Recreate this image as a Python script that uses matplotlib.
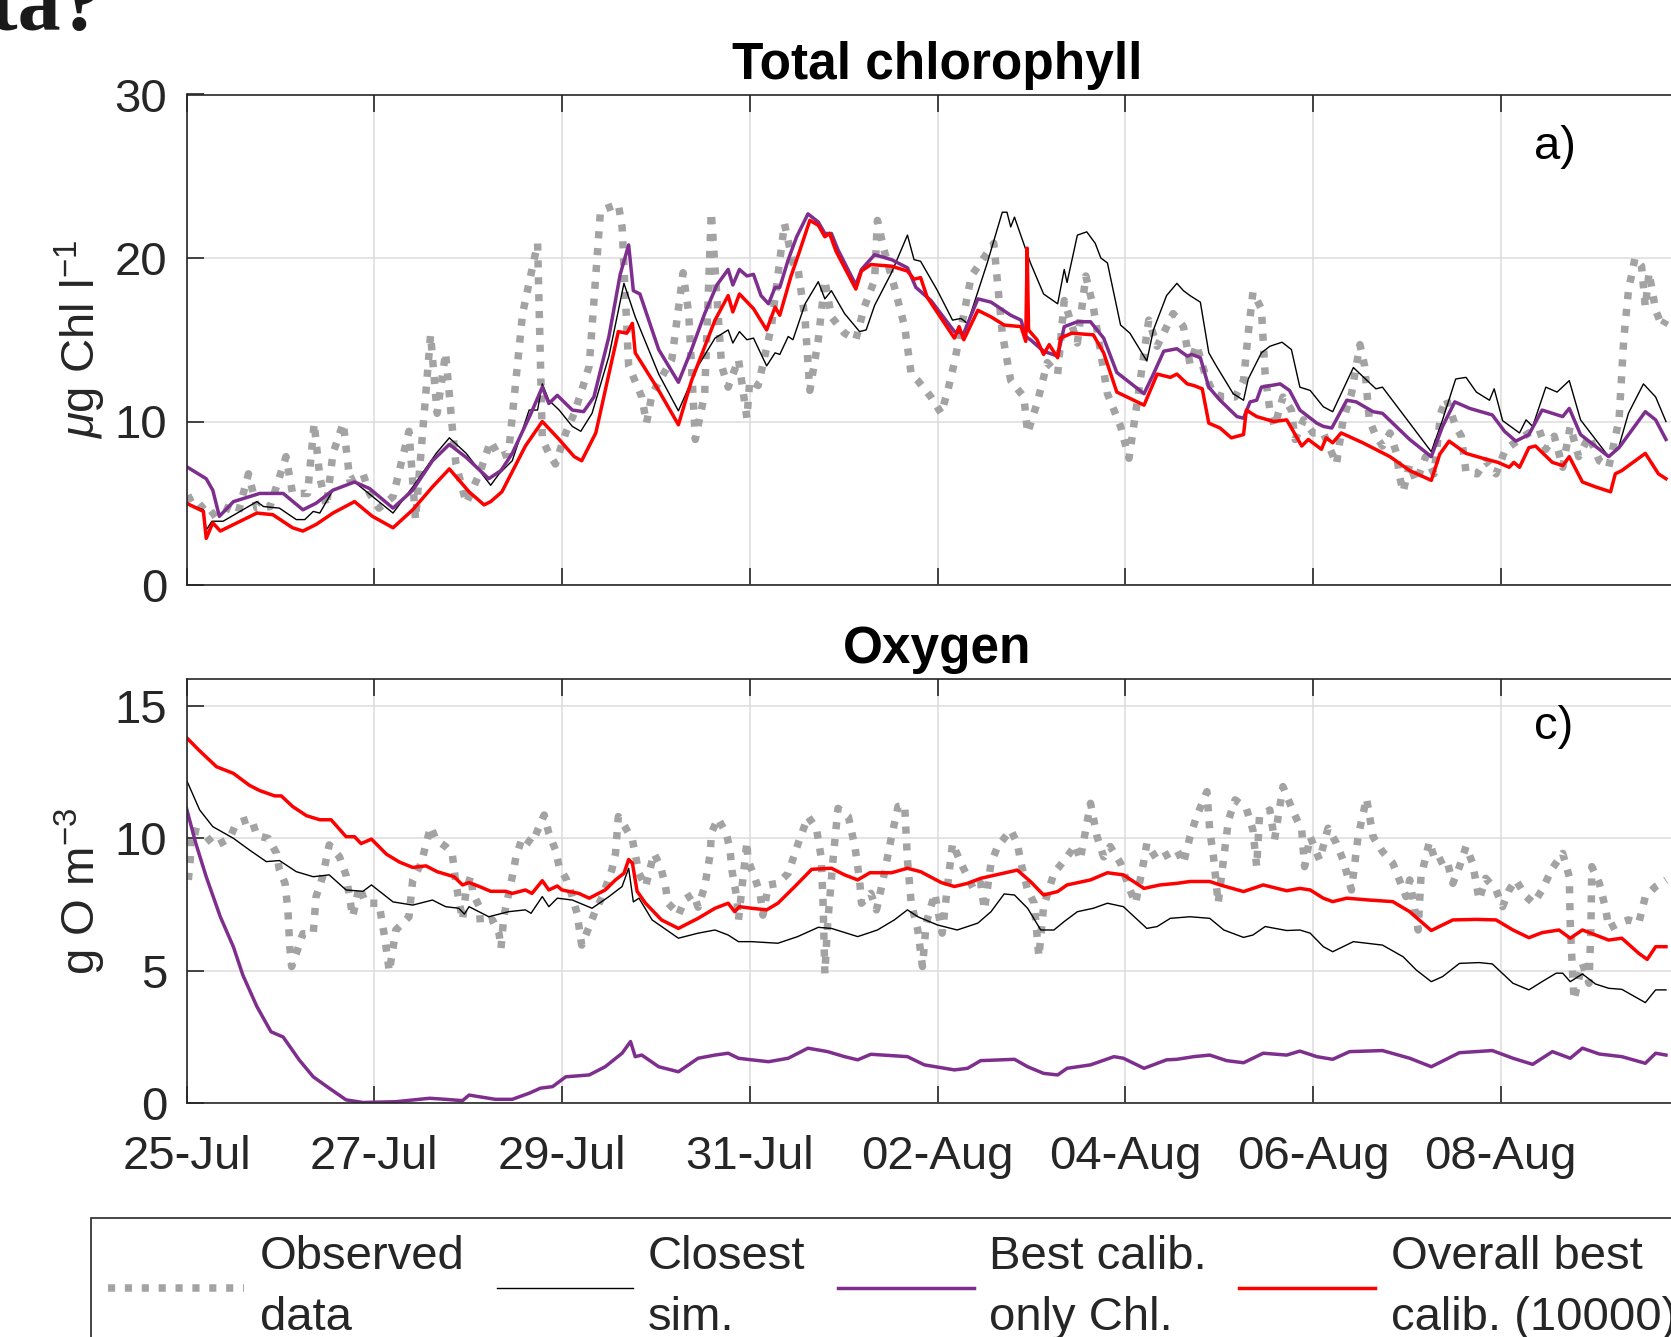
import matplotlib
matplotlib.use('Agg')
import matplotlib.pyplot as plt

# time axis: days after 25-Jul 00:00
tick_days = [0, 2, 4, 6, 8, 10, 12, 14]
tick_labels = ['25-Jul', '27-Jul', '29-Jul', '31-Jul', '02-Aug', '04-Aug', '06-Aug', '08-Aug']

# ---- Total chlorophyll (ug Chl l-1) ----
chl_obs_t = [0, 0.07, 0.25, 0.39, 0.55, 0.66, 0.75, 0.89, 1.06, 1.13, 1.29, 1.36, 1.42, 1.49, 1.56,
             1.67, 1.74, 1.88, 1.95, 2.05, 2.2, 2.37, 2.44, 2.6, 2.67, 2.76, 2.83, 2.87, 2.98, 3.12,
             3.24, 3.33, 3.43, 3.47, 3.58, 3.74, 3.79, 3.86, 3.93, 4.04, 4.13, 4.21, 4.29, 4.41, 4.6,
             4.64, 4.71, 4.85, 4.9, 4.96, 5.17, 5.29, 5.35, 5.42, 5.52, 5.59, 5.7, 5.77, 5.88, 5.97,
             6.0, 6.09, 6.23, 6.37, 6.46, 6.51, 6.59, 6.64, 6.73, 6.8, 6.87, 7.01, 7.13, 7.22, 7.33,
             7.36, 7.43, 7.54, 7.65, 7.72, 7.79, 7.93, 8.04, 8.11, 8.18, 8.36, 8.6, 8.64, 8.69, 8.78,
             8.92, 8.96, 9.06, 9.17, 9.28, 9.35, 9.49, 9.58, 9.66, 9.81, 9.95, 10.04, 10.12, 10.25,
             10.34, 10.51, 10.62, 10.69, 10.76, 10.85, 10.94, 11.05, 11.17, 11.26, 11.31, 11.36,
             11.45, 11.49, 11.54, 11.59, 11.68, 11.77, 11.81, 11.9, 12.0, 12.11, 12.25, 12.32, 12.41,
             12.5, 12.55, 12.6, 12.67, 12.74, 12.82, 12.89, 12.92, 12.96, 13.03, 13.1, 13.2, 13.29,
             13.36, 13.42, 13.52, 13.58, 13.63, 13.75, 13.84, 13.95, 14.05, 14.2, 14.3, 14.41, 14.48,
             14.57, 14.66, 14.74, 14.83, 14.94, 15.05, 15.15, 15.26, 15.31, 15.36, 15.43, 15.5, 15.54,
             15.58, 15.65, 15.72, 15.76]
chl_obs = [5.2, 5.4, 4.2, 4.8, 4.4, 6.8, 4.7, 4.8, 7.85, 5.6, 5.6, 9.9, 6.6, 4.8, 8.05,
           9.9, 6.4, 6.8, 5.6, 4.7, 5.4, 9.4, 4.0, 15.3, 10.5, 14.2, 9.7, 7.4, 5.0, 6.8,
           8.8, 7.85, 8.05, 10.3, 16.6, 20.9, 8.9, 8.05, 7.4, 9.3, 10.5, 11.9, 13.4, 22.9, 23.3,
           21.9, 13.4, 11.5, 9.9, 11.7, 13.8, 19.1, 16.6, 8.9, 11.7, 22.8, 13.4, 12.1, 13.8, 10.2,
           12.5, 12.2, 15.8, 22.1, 19.7, 19.5, 16.2, 11.9, 15.0, 18.65, 16.4, 15.4, 15.0, 17.0, 18.65,
           22.3, 20.5, 18.25, 15.8, 12.9, 12.5, 11.5, 10.5, 11.9, 13.6, 18.9, 20.9, 18.45, 15.4, 12.5,
           11.5, 9.3, 11.1, 13.6, 12.9, 17.4, 14.8, 18.9, 17.0, 11.7, 9.7, 7.75, 10.9, 16.2,
           14.6, 16.6, 15.8, 13.5, 14.7, 12.9, 11.7, 11.5, 11.5, 12.5, 15.4, 17.9,
           16.9, 12.9, 10.7, 9.7, 11.5, 10.7, 8.9, 10.1, 9.3, 9.3, 7.4, 10.1, 11.7,
           14.7, 13.4, 10.1, 9.1, 8.5, 9.3, 8.05, 6.7, 5.7, 7.4, 6.3, 7.85, 6.8,
           10.5, 11.4, 9.7, 9.1, 6.9, 6.8, 7.6, 6.8, 8.3, 8.9, 9.3, 9.5, 8.3,
           9.1, 7.2, 9.7, 7.85, 9.1, 7.6, 7.2, 10.1, 15.0, 18.0, 20.0, 19.5, 17.0,
           19.1, 16.8, 15.8, 16.2]

chl_closest_t = [0, 0.18, 0.21, 0.27, 0.39, 0.75, 0.82, 0.99, 1.17, 1.26, 1.35, 1.42, 1.56, 1.79,
                 2.2, 2.41, 2.66, 2.8, 2.98, 3.24, 3.33, 3.47, 3.65, 3.74, 3.79, 3.86, 3.97, 4.11,
                 4.2, 4.32, 4.5, 4.66, 4.78, 5.03, 5.24, 5.45, 5.63, 5.77, 5.82, 5.89, 5.97, 6.04,
                 6.18, 6.27, 6.32, 6.41, 6.46, 6.59, 6.73, 6.8, 6.87, 7.01, 7.17, 7.24, 7.33, 7.51,
                 7.68, 7.75, 7.82, 8.0, 8.16, 8.25, 8.32, 8.53, 8.69, 8.74, 8.78, 8.82, 8.99, 9.13,
                 9.28, 9.35, 9.38, 9.49, 9.59, 9.68, 9.74, 9.81, 9.95, 10.05, 10.23, 10.3, 10.44,
                 10.55, 10.62, 10.69, 10.8, 10.89, 10.97, 11.15, 11.26, 11.31, 11.45, 11.54, 11.67,
                 11.77, 11.86, 11.97, 12.11, 12.21, 12.43, 12.67, 12.74, 13.03, 13.26, 13.38, 13.52,
                 13.63, 13.74, 13.88, 13.93, 14.02, 14.2, 14.27, 14.34, 14.48, 14.6, 14.73, 14.85,
                 15.15, 15.26, 15.36, 15.52, 15.65, 15.76]
chl_closest = [5.0, 4.6, 3.35, 3.9, 3.9, 5.1, 4.8, 4.7, 4.0, 4.0, 4.5, 4.4, 5.8, 6.3,
               4.4, 6.0, 8.05, 9.0, 8.05, 6.1, 6.8, 7.6, 10.7, 10.7, 12.3, 11.3, 10.7, 9.7,
               9.4, 10.5, 14.0, 18.45, 16.4, 12.9, 10.65, 13.4, 15.1, 15.6, 14.8, 15.5, 15.0, 15.1,
               13.4, 14.2, 14.1, 15.2, 15.0, 17.2, 18.55, 17.5, 18.0, 16.6, 15.5, 15.6, 17.1, 19.1,
               21.4, 19.9, 19.8, 18.0, 16.2, 16.3, 16.0, 19.7, 22.8, 22.8, 21.9, 22.5, 19.7, 17.8,
               17.2, 19.3, 18.5, 21.4, 21.6, 20.9, 20.0, 19.7, 15.9, 15.4, 13.7, 15.6, 17.7,
               18.45, 18.0, 17.7, 17.3, 14.2, 13.4, 11.7, 11.3, 12.6, 14.2, 14.6, 14.85,
               14.4, 12.1, 11.9, 10.9, 10.6, 13.3, 12.0, 12.1, 9.9, 8.15, 10.1, 12.6,
               12.7, 11.8, 11.3, 12.0, 10.05, 9.3, 10.1, 9.7, 12.1, 11.8, 12.5, 10.1,
               7.85, 8.5, 10.5, 12.3, 11.5, 10.0]

chl_chl_t = [0, 0.21, 0.28, 0.35, 0.5, 0.78, 1.03, 1.24, 1.38, 1.56, 1.79, 1.95, 2.2, 2.41, 2.62,
             2.8, 2.98, 3.22, 3.35, 3.47, 3.67, 3.79, 3.86, 3.95, 4.11, 4.23, 4.34, 4.5, 4.62, 4.71,
             4.76, 4.83, 5.03, 5.24, 5.38, 5.52, 5.65, 5.77, 5.82, 5.89, 5.97, 6.04, 6.12, 6.2,
             6.27, 6.32, 6.41, 6.5, 6.62, 6.73, 6.8, 6.87, 6.94, 7.13, 7.19, 7.33, 7.51, 7.68, 7.77,
             7.93, 8.18, 8.28, 8.43, 8.57, 8.78, 8.89, 8.94, 8.99, 9.13, 9.28, 9.35, 9.49, 9.63,
             9.77, 9.91, 10.2, 10.3, 10.41, 10.55, 10.66, 10.71, 10.8, 10.89, 11.01, 11.19, 11.26,
             11.33, 11.4, 11.45, 11.65, 11.75, 11.86, 12.04, 12.11, 12.2, 12.36, 12.46, 12.64,
             12.74, 13.03, 13.26, 13.38, 13.51, 13.67, 13.91, 14.04, 14.16, 14.3, 14.44, 14.55,
             14.66, 14.73, 14.85, 15.15, 15.26, 15.54, 15.65, 15.76]
chl_chl = [7.24, 6.5, 5.8, 4.2, 5.1, 5.6, 5.6, 4.6, 5.0, 5.8, 6.3, 5.9, 4.7, 5.8, 7.6,
           8.6, 7.8, 6.5, 7.0, 8.05, 10.5, 12.1, 11.1, 11.6, 10.7, 10.6, 11.5, 15.2, 19.0, 20.8,
           18.0, 17.8, 14.4, 12.4, 14.4, 16.6, 18.35, 19.3, 18.35, 19.3, 18.9, 19.0, 17.7, 17.2,
           18.2, 18.2, 19.9, 21.3, 22.7, 22.2, 21.5, 21.5, 20.5, 18.35, 19.3, 20.2, 19.9, 19.4, 18.2,
           17.4, 15.5, 15.4, 17.5, 17.3, 16.5, 16.2, 15.2, 15.0, 14.3, 14.0, 15.8, 16.1, 16.1,
           15.1, 13.0, 11.7, 12.9, 14.3, 14.45, 14.0, 14.1, 13.9, 12.1, 11.3, 10.3, 10.2,
           11.2, 11.3, 12.1, 12.3, 11.9, 10.7, 9.9, 9.7, 9.6, 11.3, 11.2, 10.6,
           10.5, 8.9, 7.85, 9.7, 11.2, 10.8, 10.4, 9.4, 8.8, 9.2, 10.7, 10.5,
           10.3, 10.8, 9.2, 7.85, 8.4, 10.6, 10.1, 8.9]

chl_best_t = [0, 0.18, 0.21, 0.28, 0.36, 0.75, 0.92, 1.13, 1.24, 1.38, 1.56, 1.79, 1.98, 2.2, 2.41,
              2.62, 2.8, 3.01, 3.17, 3.24, 3.36, 3.61, 3.79, 3.97, 4.13, 4.21, 4.36, 4.6, 4.69, 4.75,
              4.78, 5.03, 5.24, 5.38, 5.63, 5.77, 5.82, 5.89, 6.04, 6.18, 6.27, 6.32, 6.44, 6.53,
              6.64, 6.73, 6.8, 6.85, 6.92, 7.13, 7.19, 7.29, 7.51, 7.68, 7.75, 7.82, 7.89, 8.18,
              8.23, 8.28, 8.43, 8.57, 8.71, 8.89, 8.94, 8.955, 8.97, 9.0, 9.06, 9.13, 9.19, 9.28,
              9.31, 9.43, 9.66, 9.77, 9.91, 10.2, 10.34, 10.48, 10.55, 10.66, 10.73, 10.82, 10.89,
              11.01, 11.13, 11.26, 11.29, 11.4, 11.58, 11.72, 11.88, 11.95, 12.09, 12.14, 12.21,
              12.3, 12.53, 12.82, 13.03, 13.26, 13.35, 13.45, 13.63, 13.81, 13.97, 14.09, 14.14,
              14.2, 14.3, 14.37, 14.55, 14.66, 14.73, 14.87, 15.01, 15.17, 15.22, 15.29, 15.54,
              15.68, 15.76]
chl_best = [5.0, 4.5, 2.85, 3.8, 3.3, 4.4, 4.3, 3.5, 3.3, 3.7, 4.4, 5.1, 4.2, 3.5, 4.6,
            6.0, 7.1, 5.7, 4.9, 5.1, 5.7, 8.5, 10.0, 8.9, 7.85, 7.6, 9.3, 15.5, 15.4, 16.0,
            14.2, 11.9, 9.8, 12.5, 16.2, 17.7, 16.7, 17.8, 16.9, 15.6, 17.0, 16.5, 18.9, 20.4,
            22.3, 22.0, 21.3, 21.5, 20.4, 18.1, 19.2, 19.6, 19.5, 19.2, 18.7, 18.8, 17.6, 15.1,
            15.8, 15.0, 16.8, 16.4, 15.9, 15.8, 14.9, 20.6, 15.6, 15.4, 15.0, 14.1, 14.7, 13.9,
            15.1, 15.4, 15.3, 14.2, 11.8, 11.0, 12.9, 12.7, 12.9, 12.3, 12.2, 12.0, 9.9,
            9.6, 9.0, 9.2, 10.7, 10.3, 10.0, 10.1, 8.5, 8.9, 8.3, 9.0, 8.7,
            9.3, 8.7, 7.85, 7.0, 6.4, 8.0, 8.8, 8.05, 7.75, 7.5, 7.2, 7.5,
            7.2, 8.4, 8.5, 7.5, 7.3, 7.85, 6.3, 6.0, 5.7, 6.8, 7.0, 8.05,
            6.8, 6.5]

# ---- Oxygen (g O m-3) ----
oxy_obs_t = [0.02, 0.04, 0.05, 0.18, 0.3, 0.46, 0.53, 0.69, 0.75, 0.87, 0.96, 0.99, 1.05, 1.08,
             1.1, 1.12, 1.17, 1.24, 1.35, 1.38, 1.45, 1.52, 1.63, 1.7, 1.77, 1.84, 1.91, 2.05, 2.11,
             2.14, 2.16, 2.23, 2.37, 2.41, 2.5, 2.6, 2.66, 2.76, 2.83, 2.87, 2.94, 2.98, 3.03, 3.05,
             3.12, 3.13, 3.26, 3.33, 3.35, 3.38, 3.47, 3.51, 3.58, 3.68, 3.81, 3.86, 3.93, 3.97,
             4.05, 4.11, 4.16, 4.21, 4.29, 4.36, 4.43, 4.53, 4.57, 4.6, 4.67, 4.75, 4.82, 4.89,
             4.98, 5.05, 5.1, 5.13, 5.2, 5.24, 5.31, 5.4, 5.45, 5.52, 5.58, 5.59, 5.66, 5.75, 5.79,
             5.81, 5.86, 5.88, 5.93, 5.97, 5.98, 6.05, 6.11, 6.14, 6.2, 6.3, 6.41, 6.51, 6.62, 6.71,
             6.76, 6.78, 6.8, 6.83, 6.89, 6.94, 7.05, 7.12, 7.17, 7.19, 7.29, 7.35, 7.42, 7.51,
             7.58, 7.65, 7.68, 7.72, 7.79, 7.84, 7.88, 7.97, 8.05, 8.11, 8.16, 8.25, 8.32, 8.39,
             8.46, 8.5, 8.57, 8.64, 8.78, 8.85, 8.89, 8.96, 9.03, 9.08, 9.13, 9.24, 9.38, 9.47,
             9.52, 9.63, 9.7, 9.77, 9.84, 9.95, 10.05, 10.11, 10.2, 10.23, 10.34, 10.51, 10.55,
             10.62, 10.69, 10.76, 10.87, 10.9, 10.94, 10.99, 11.05, 11.1, 11.17, 11.29, 11.36, 11.4,
             11.43, 11.54, 11.59, 11.68, 11.79, 11.88, 11.91, 11.97, 12.07, 12.16, 12.25, 12.32,
             12.41, 12.48, 12.57, 12.64, 12.74, 12.85, 12.92, 12.99, 13.03, 13.12, 13.15, 13.24,
             13.31, 13.42, 13.49, 13.56, 13.63, 13.7, 13.77, 13.84, 13.95, 14.02, 14.09, 14.16,
             14.27, 14.35, 14.44, 14.55, 14.66, 14.73, 14.74, 14.76, 14.78, 14.87, 14.94, 14.96,
             14.97, 15.05, 15.12, 15.15, 15.26, 15.36, 15.47, 15.54, 15.65, 15.76]
oxy_obs = [8.43, 9.2, 10.3, 10.2, 9.7, 10.0, 10.57, 10.75, 10.1, 10.0, 9.43, 8.8, 8.3, 7.3,
           5.9, 5.16, 5.66, 6.4, 6.4, 7.8, 8.55, 9.75, 9.3, 8.6, 7.04, 8.18, 7.55, 7.55, 6.29,
           5.53, 4.97, 6.54, 7.04, 8.43, 9.06, 10.44, 9.94, 9.69, 9.43, 8.3, 6.92, 8.05, 8.6, 7.92,
           7.42, 6.8, 6.92, 6.4, 5.85, 7.04, 8.55, 9.3, 10.06, 9.8, 10.88, 10.19, 9.56, 8.93,
           8.43, 7.8, 7.17, 5.97, 6.67, 7.3, 7.8, 8.8, 9.43, 10.82, 10.44, 9.94, 8.68, 8.18,
           9.43, 8.93, 8.24, 7.55, 7.3, 7.1, 7.7, 7.9, 7.4, 8.18, 9.43, 10.19, 10.75, 10.19, 9.56,
           8.8, 7.8, 6.92, 8.55, 9.87, 9.18, 8.55, 7.92, 7.1, 8.24, 8.3, 8.68, 9.75, 10.82, 10.38,
           9.3, 7.67, 4.9, 6.8, 9.3, 11.13, 10.82, 9.69, 8.43, 7.55, 7.92, 7.3, 8.43, 10.06,
           11.2, 11.26, 9.18, 7.55, 6.54, 5.16, 6.8, 7.92, 6.42, 8.3, 9.81, 9.06, 8.55, 8.05,
           8.3, 7.3, 9.06, 9.69, 10.31, 9.81, 9.06, 8.05, 7.55, 5.53, 7.42, 8.68, 9.3, 9.75,
           9.18, 11.32, 10.06, 9.3, 9.69, 9.06, 8.05, 7.55, 9.18, 9.81, 9.18, 9.5, 9.56,
           9.06, 10.06, 10.82, 11.76, 10.31, 9.3, 7.55, 9.3, 10.69, 11.45, 11.13, 10.31, 8.93,
           10.82, 11.07, 9.94, 11.95, 11.0, 10.31, 8.93, 10.06, 9.18, 10.38, 9.81, 9.18,
           8.05, 10.06, 11.51, 10.06, 9.5, 9.06, 8.43, 7.8, 8.43, 6.54, 8.55, 9.87,
           9.06, 9.25, 8.3, 8.93, 9.69, 9.06, 7.67, 8.49, 8.05, 7.42, 8.05, 8.43,
           7.8, 7.55, 8.05, 8.87, 9.43, 8.55, 6.8, 5.28, 3.9, 5.28, 4.53, 6.54,
           8.93, 8.3, 7.3, 6.6, 6.8, 6.92, 6.8, 7.8, 8.18, 8.43]

oxy_closest_t = [0, 0.14, 0.28, 0.5, 0.67, 0.85, 0.99, 1.17, 1.35, 1.52, 1.7, 1.88, 1.97, 2.2, 2.41,
                 2.62, 2.76, 2.9, 2.96, 3.01, 3.22, 3.43, 3.61, 3.67, 3.79, 3.86, 3.95, 4.11, 4.32,
                 4.5, 4.64, 4.71, 4.76, 4.82, 4.96, 5.24, 5.45, 5.63, 5.77, 5.88, 6.02, 6.3, 6.51,
                 6.73, 6.87, 7.15, 7.36, 7.54, 7.68, 7.79, 8.0, 8.21, 8.43, 8.57, 8.71, 8.82, 8.96,
                 9.1, 9.24, 9.35, 9.49, 9.66, 9.81, 9.98, 10.23, 10.34, 10.48, 10.69, 10.9, 11.05,
                 11.26, 11.36, 11.49, 11.72, 11.86, 11.97, 12.11, 12.21, 12.43, 12.74, 12.96, 13.1,
                 13.26, 13.38, 13.56, 13.77, 13.91, 14.13, 14.3, 14.44, 14.59, 14.66, 14.74, 14.87,
                 15.01, 15.15, 15.29, 15.54, 15.65, 15.76]
oxy_closest = [12.2, 11.07, 10.44, 10.0, 9.56, 9.12, 9.16, 8.74, 8.55, 8.62, 8.05, 8.0, 8.24, 7.6, 7.48,
               7.67, 7.42, 7.36, 7.14, 7.42, 7.04, 7.23, 7.3, 7.17, 7.8, 7.42, 7.74, 7.67, 7.36,
               7.8, 8.18, 8.87, 7.6, 7.74, 6.92, 6.23, 6.42, 6.54, 6.35, 6.1, 6.1, 6.04, 6.29,
               6.64, 6.6, 6.29, 6.54, 6.92, 7.3, 7.04, 6.73, 6.54, 6.8, 7.23, 7.9, 7.86, 7.36,
               6.54, 6.54, 6.86, 7.23, 7.36, 7.55, 7.42, 6.6, 6.67, 6.98, 7.04, 6.98, 6.54,
               6.26, 6.35, 6.67, 6.52, 6.54, 6.42, 5.91, 5.72, 6.1, 5.97, 5.53, 5.03,
               4.59, 4.78, 5.28, 5.31, 5.26, 4.53, 4.28, 4.59, 4.91, 4.91, 4.59, 4.88,
               4.5, 4.34, 4.3, 3.8, 4.28, 4.28]

oxy_chl_t = [0, 0.1, 0.21, 0.36, 0.5, 0.6, 0.75, 0.9, 1.03, 1.2, 1.35, 1.52, 1.7, 1.88, 2.23, 2.59,
             2.76, 2.94, 3.01, 3.29, 3.47, 3.65, 3.77, 3.9, 4.04, 4.29, 4.46, 4.64, 4.73, 4.78, 4.85,
             5.03, 5.24, 5.45, 5.63, 5.77, 5.88, 6.02, 6.2, 6.41, 6.62, 6.83, 7.01, 7.15, 7.29, 7.68,
             7.86, 8.18, 8.32, 8.46, 8.82, 8.96, 9.13, 9.28, 9.38, 9.63, 9.88, 9.98, 10.2, 10.44,
             10.55, 10.73, 10.9, 11.08, 11.26, 11.47, 11.72, 11.86, 12.04, 12.21, 12.39, 12.74,
             13.03, 13.26, 13.56, 13.91, 14.13, 14.34, 14.55, 14.74, 14.87, 15.05, 15.29, 15.54,
             15.65, 15.76]
oxy_chl = [11.13, 9.8, 8.55, 7.04, 5.9, 4.84, 3.65, 2.7, 2.5, 1.64, 1.0, 0.57, 0.13, 0.03, 0.06, 0.19,
           0.15, 0.1, 0.31, 0.15, 0.15, 0.38, 0.57, 0.63, 1.0, 1.07, 1.38, 1.89, 2.33, 1.76, 1.82,
           1.38, 1.19, 1.7, 1.82, 1.89, 1.7, 1.64, 1.57, 1.7, 2.08, 1.95, 1.76, 1.64, 1.85, 1.76,
           1.45, 1.26, 1.32, 1.61, 1.66, 1.38, 1.13, 1.07, 1.32, 1.45, 1.76, 1.7, 1.32, 1.64,
           1.66, 1.76, 1.82, 1.61, 1.53, 1.89, 1.82, 1.97, 1.76, 1.66, 1.95, 1.99,
           1.7, 1.38, 1.91, 1.99, 1.7, 1.47, 1.95, 1.7, 2.08, 1.86, 1.76, 1.51,
           1.89, 1.82]

oxy_best_t = [0, 0.14, 0.32, 0.5, 0.67, 0.78, 0.94, 1.01, 1.13, 1.28, 1.42, 1.54, 1.7, 1.79, 1.86,
              1.97, 2.13, 2.27, 2.41, 2.55, 2.67, 2.85, 2.94, 3.01, 3.12, 3.24, 3.4, 3.47, 3.61,
              3.68, 3.79, 3.86, 3.95, 4.0, 4.18, 4.29, 4.46, 4.57, 4.66, 4.71, 4.75, 4.8, 4.89, 5.06,
              5.24, 5.45, 5.63, 5.77, 5.84, 5.89, 6.02, 6.18, 6.3, 6.48, 6.66, 6.87, 7.01, 7.15,
              7.28, 7.51, 7.68, 7.82, 8.04, 8.18, 8.32, 8.46, 8.85, 8.99, 9.13, 9.28, 9.38, 9.63,
              9.81, 9.98, 10.2, 10.37, 10.55, 10.69, 10.9, 11.01, 11.26, 11.47, 11.72, 11.86,
              11.97, 12.11, 12.21, 12.36, 12.6, 12.85, 13.03, 13.26, 13.49, 13.74, 13.95, 14.13,
              14.3, 14.44, 14.62, 14.74, 14.87, 15.01, 15.15, 15.29, 15.47, 15.56, 15.65, 15.76]
oxy_best = [13.8, 13.3, 12.7, 12.45, 12.0, 11.8, 11.6, 11.6, 11.2, 10.85, 10.7, 10.7, 10.06, 10.06, 9.8,
            9.97, 9.4, 9.1, 8.9, 8.96, 8.74, 8.55, 8.24, 8.33, 8.18, 8.0, 8.0, 7.92, 8.05,
            7.92, 8.4, 8.05, 8.2, 8.05, 7.92, 7.74, 8.05, 8.43, 8.68, 9.2, 9.06, 8.0, 7.55, 6.92,
            6.6, 6.98, 7.36, 7.55, 7.23, 7.42, 7.36, 7.3, 7.55, 8.18, 8.83, 8.87, 8.62, 8.43,
            8.7, 8.7, 8.87, 8.74, 8.33, 8.18, 8.3, 8.49, 8.8, 8.37, 7.86, 7.99, 8.24, 8.43,
            8.7, 8.62, 8.11, 8.24, 8.3, 8.37, 8.37, 8.24, 7.99, 8.24, 8.02, 8.11,
            8.05, 7.74, 7.61, 7.74, 7.67, 7.61, 7.23, 6.52, 6.92, 6.94, 6.92, 6.54,
            6.25, 6.44, 6.54, 6.23, 6.54, 6.35, 6.16, 6.23, 5.66, 5.43, 5.91, 5.91]

TXT = '#262626'

plt.rcParams['font.family'] = ['Liberation Sans', 'DejaVu Sans']
plt.rcParams['mathtext.fontset'] = 'custom'
plt.rcParams['mathtext.rm'] = 'Liberation Sans'
plt.rcParams['mathtext.it'] = 'Liberation Sans:italic'
plt.rcParams['text.color'] = TXT

fig = plt.figure(figsize=(16.71, 13.37), dpi=100)
W, H = 1671.0, 1337.0


def pos(left, top, right, bottom):
    # pixel box -> figure fraction [l, b, w, h]
    return [left / W, 1 - bottom / H, (right - left) / W, (bottom - top) / H]


ax1 = fig.add_axes(pos(186.5, 94.5, 1688.5, 585))
ax2 = fig.add_axes(pos(186.5, 679.3, 1688.5, 1103.3))

obs_style = dict(color='#a3a3a3', lw=5.4, ls=(0, (0.95, 1.3)), dash_capstyle='butt')
closest_style = dict(color='black', lw=1.0)
chl_style = dict(color='#7e2f8e', lw=2.5)
best_style = dict(color='#ff0000', lw=2.5)

l_obs, = ax1.plot(chl_obs_t, chl_obs, label='Observed\ndata', **obs_style)
l_cl, = ax1.plot(chl_closest_t, chl_closest, label='Closest\nsim.', **closest_style)
l_ch, = ax1.plot(chl_chl_t, chl_chl, label='Best calib.\nonly Chl.', **chl_style)
l_be, = ax1.plot(chl_best_t, chl_best, label='Overall best\ncalib. (10000)', **best_style)

ax2.plot(oxy_obs_t, oxy_obs, **obs_style)
ax2.plot(oxy_closest_t, oxy_closest, **closest_style)
ax2.plot(oxy_chl_t, oxy_chl, **chl_style)
ax2.plot(oxy_best_t, oxy_best, **best_style)

for ax in (ax1, ax2):
    ax.set_xlim(0, 16)
    ax.set_xticks(tick_days)
    ax.grid(True, color='#dcdcdc', lw=1.1)
    ax.set_axisbelow(True)
    ax.tick_params(direction='in', length=12, width=1.2, colors=TXT, labelsize=34,
                   top=True, right=True)
    ax.tick_params(axis='y', pad=14)
    ax.tick_params(axis='x', pad=23)
    for s in ax.spines.values():
        s.set_color(TXT)
        s.set_linewidth(1.2)

ax1.set_ylim(0, 30)
ax1.set_yticks([0, 10, 20, 30])
ax1.set_xticklabels([])
ax2.set_ylim(0, 16)
ax2.set_yticks([0, 5, 10, 15])
ax2.set_xticklabels(tick_labels)

ax1.set_title('Total chlorophyll', fontsize=37, fontweight='bold', color='black', pad=11.5)
ax2.set_title('Oxygen', fontsize=37, fontweight='bold', color='black', pad=11.5)

ax1.text(14.58, 26.8, 'a)', fontsize=34, color='black', ha='center', va='center')
ax2.text(14.56, 14.2, 'c)', fontsize=34, color='black', ha='center', va='center')

fig.text(108 / W, 1 - 339 / H, r'$\mu$g Chl l$^{-1}$', rotation=90, fontsize=34,
         ha='right', va='center')
fig.text(108 / W, 1 - 891 / H, r'g O m$^{-3}$', rotation=90, fontsize=34,
         ha='right', va='center')

# clipped slide title in the corner
fig.text(104 / W, 1 - 30 / H, 'data?', fontsize=62, fontweight='bold',
         family=['Liberation Serif', 'DejaVu Serif'], color='#1a1a1a', ha='right', va='baseline')

leg = fig.legend(handles=[l_obs, l_cl, l_ch, l_be], loc='upper left',
                 bbox_to_anchor=(90.6 / W, 1 - 1218 / H), borderaxespad=0, ncol=4,
                 fontsize=34, handlelength=2.88, handletextpad=0.33, columnspacing=0.68,
                 borderpad=0.37, fancybox=False, framealpha=1, edgecolor=TXT)
leg.get_frame().set_linewidth(1.2)
for t in leg.get_texts():
    t.set_linespacing(1.5)

fig.savefig('out.png', dpi=100)
